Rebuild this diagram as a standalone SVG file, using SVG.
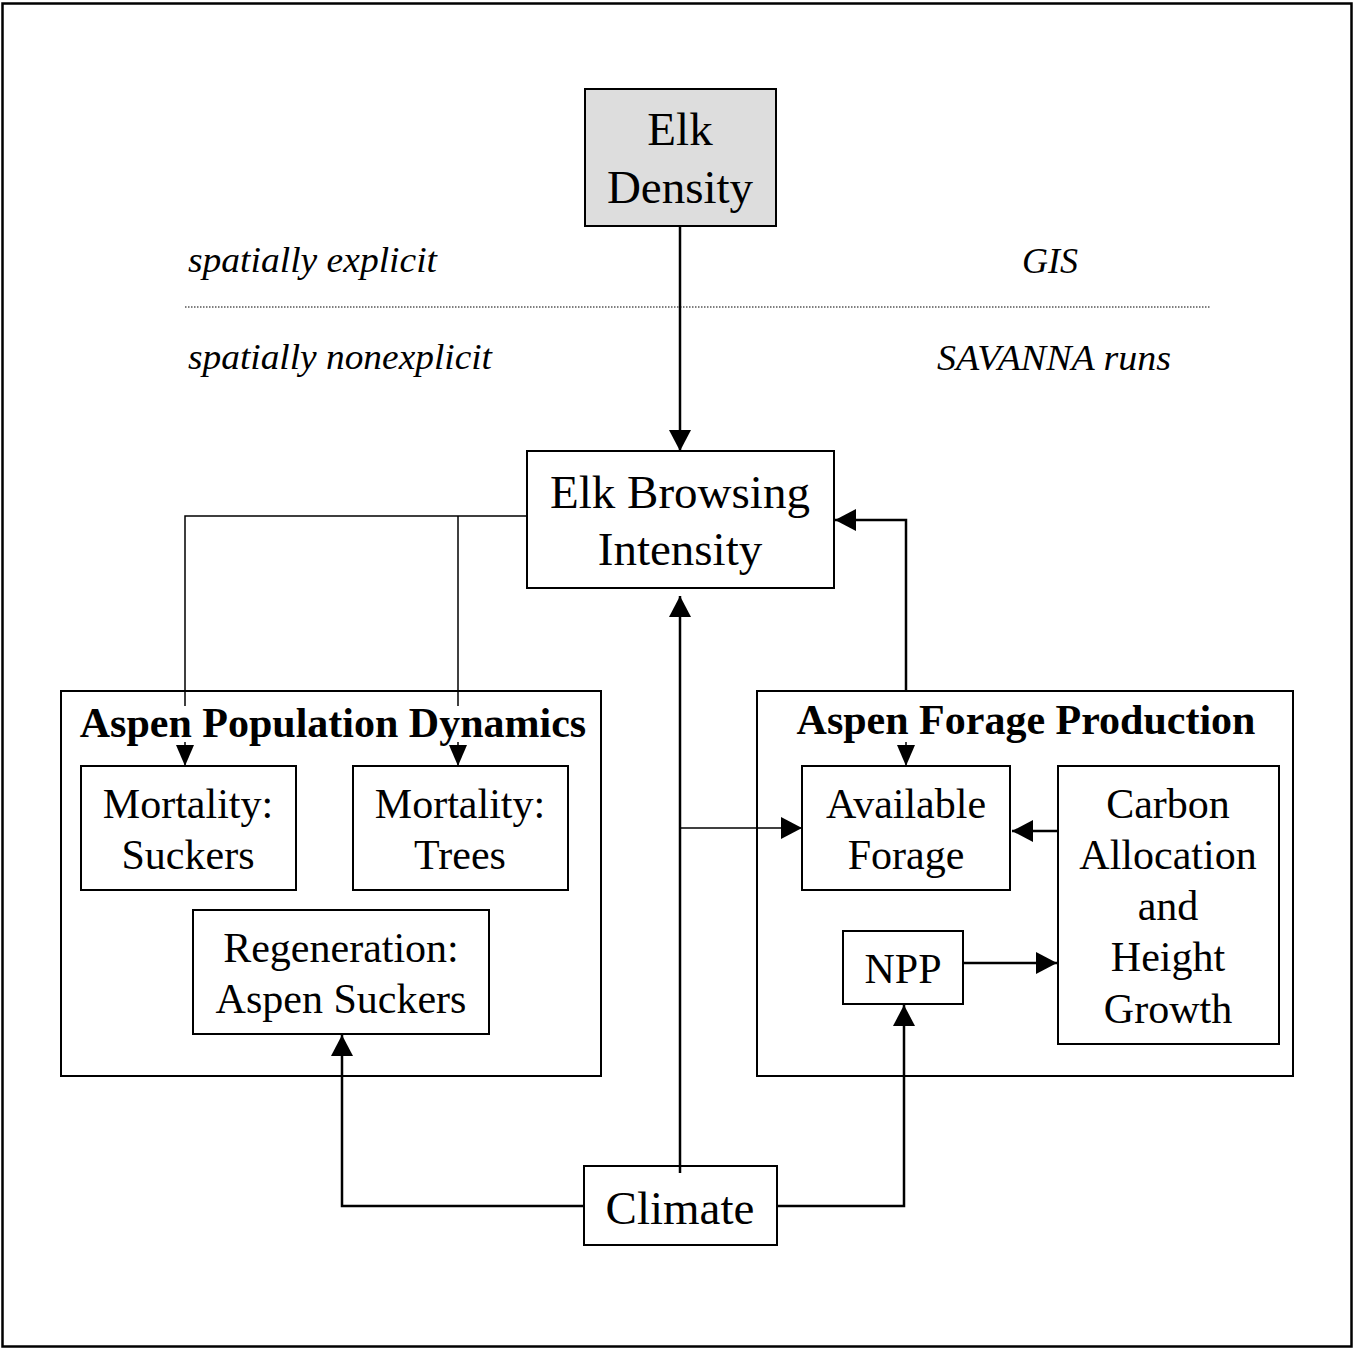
<svg xmlns="http://www.w3.org/2000/svg" width="1354" height="1349" viewBox="0 0 1354 1349">
<style>
.box{fill:#fff;stroke:#000;stroke-width:2}
.t{font-family:"Liberation Serif","Times New Roman",serif;fill:#000;text-anchor:middle}
.big{font-size:47px}
.mid{font-size:42px}
.title{font-size:42px;font-weight:bold}
.it{font-family:"Liberation Serif","Times New Roman",serif;font-style:italic;font-size:36px;fill:#000}
.c{fill:none;stroke:#000;stroke-width:2.5}
.thin{fill:none;stroke:#000;stroke-width:1.5}
</style>
<defs>
<marker id="ah" markerUnits="userSpaceOnUse" markerWidth="22" markerHeight="22" refX="21" refY="11" orient="auto" viewBox="0 0 22 22"><path d="M0,0 L21,11 L0,22 Z" fill="#000"/></marker>
<marker id="ahs" markerUnits="userSpaceOnUse" markerWidth="21" markerHeight="18" refX="21" refY="9" orient="auto" viewBox="0 0 21 18"><path d="M0,0 L21,9 L0,18 Z" fill="#000"/></marker>
</defs>
<rect x="0" y="0" width="1354" height="1349" fill="#fff"/>
<rect x="2.5" y="3.5" width="1349" height="1343" fill="none" stroke="#000" stroke-width="2.5"/>

<g id="labels">
<text class="it" x="188" y="272" textLength="249" lengthAdjust="spacingAndGlyphs">spatially explicit</text>
<text class="it" x="1022" y="273" textLength="56" lengthAdjust="spacingAndGlyphs">GIS</text>
<line x1="185" y1="307" x2="1210" y2="307" stroke="#000" stroke-width="1" stroke-dasharray="1.5 1.5"/>
<text class="it" x="188" y="369" textLength="304" lengthAdjust="spacingAndGlyphs">spatially nonexplicit</text>
<text class="it" x="937" y="370" textLength="234" lengthAdjust="spacingAndGlyphs">SAVANNA runs</text>
</g>

<g id="group-population">
<rect class="box" x="61" y="691" width="540" height="385"/>
<text class="t title" x="333" y="737">Aspen Population Dynamics</text>
</g>
<g id="group-forage">
<rect class="box" x="757" y="691" width="536" height="385"/>
<text class="t title" x="1026" y="734">Aspen Forage Production</text>
</g>

<g id="elk-density">
<rect x="585" y="89" width="191" height="137" fill="#dddddd" stroke="#000" stroke-width="2"/>
<text class="t big" x="680" y="145">Elk</text>
<text class="t big" x="680" y="203">Density</text>
</g>
<g id="elk-browsing">
<rect class="box" x="527" y="451" width="307" height="137"/>
<text class="t big" x="680" y="508">Elk Browsing</text>
<text class="t big" x="680" y="565">Intensity</text>
</g>
<g id="mortality-suckers">
<rect class="box" x="81" y="766" width="215" height="124"/>
<text class="t mid" x="188" y="818">Mortality:</text>
<text class="t mid" x="188" y="869">Suckers</text>
</g>
<g id="mortality-trees">
<rect class="box" x="353" y="766" width="215" height="124"/>
<text class="t mid" x="460" y="818">Mortality:</text>
<text class="t mid" x="460" y="869">Trees</text>
</g>
<g id="regeneration">
<rect class="box" x="193" y="910" width="296" height="124"/>
<text class="t mid" x="341" y="962">Regeneration:</text>
<text class="t mid" x="341" y="1013">Aspen Suckers</text>
</g>
<g id="available-forage">
<rect class="box" x="802" y="766" width="208" height="124"/>
<text class="t mid" x="906" y="818">Available</text>
<text class="t mid" x="906" y="869">Forage</text>
</g>
<g id="carbon-allocation">
<rect class="box" x="1058" y="766" width="221" height="278"/>
<text class="t mid" x="1168" y="818">Carbon</text>
<text class="t mid" x="1168" y="869">Allocation</text>
<text class="t mid" x="1168" y="920">and</text>
<text class="t mid" x="1168" y="971">Height</text>
<text class="t mid" x="1168" y="1023">Growth</text>
</g>
<g id="npp">
<rect class="box" x="843" y="931" width="120" height="73"/>
<text class="t mid" x="903" y="983">NPP</text>
</g>
<g id="climate">
<rect class="box" x="584" y="1166" width="193" height="79"/>
<text class="t big" x="680" y="1224">Climate</text>
</g>

<g id="connectors">
<line class="c" x1="680" y1="226" x2="680" y2="451" marker-end="url(#ah)"/>
<polyline class="thin" points="527,516 185,516 185,706"/>
<line class="thin" x1="185" y1="742" x2="185" y2="766" marker-end="url(#ahs)"/>
<line class="thin" x1="458" y1="516" x2="458" y2="706"/>
<line class="thin" x1="458" y1="742" x2="458" y2="766" marker-end="url(#ahs)"/>
<polyline class="c" points="906,691 906,520 835,520" stroke-width="2" marker-end="url(#ah)"/>
<line class="thin" x1="906" y1="742" x2="906" y2="766" marker-end="url(#ahs)"/>
<line class="c" x1="680" y1="1173" x2="680" y2="596" marker-end="url(#ah)"/>
<line class="thin" x1="680" y1="828" x2="802" y2="828" marker-end="url(#ah)"/>
<polyline class="c" points="584,1206 342,1206 342,1035" marker-end="url(#ah)"/>
<polyline class="c" points="777,1206 904,1206 904,1005" marker-end="url(#ah)"/>
<line class="c" x1="1058" y1="831" x2="1012" y2="831" marker-end="url(#ah)"/>
<line class="c" x1="963" y1="963" x2="1057" y2="963" marker-end="url(#ah)"/>
</g>
</svg>
